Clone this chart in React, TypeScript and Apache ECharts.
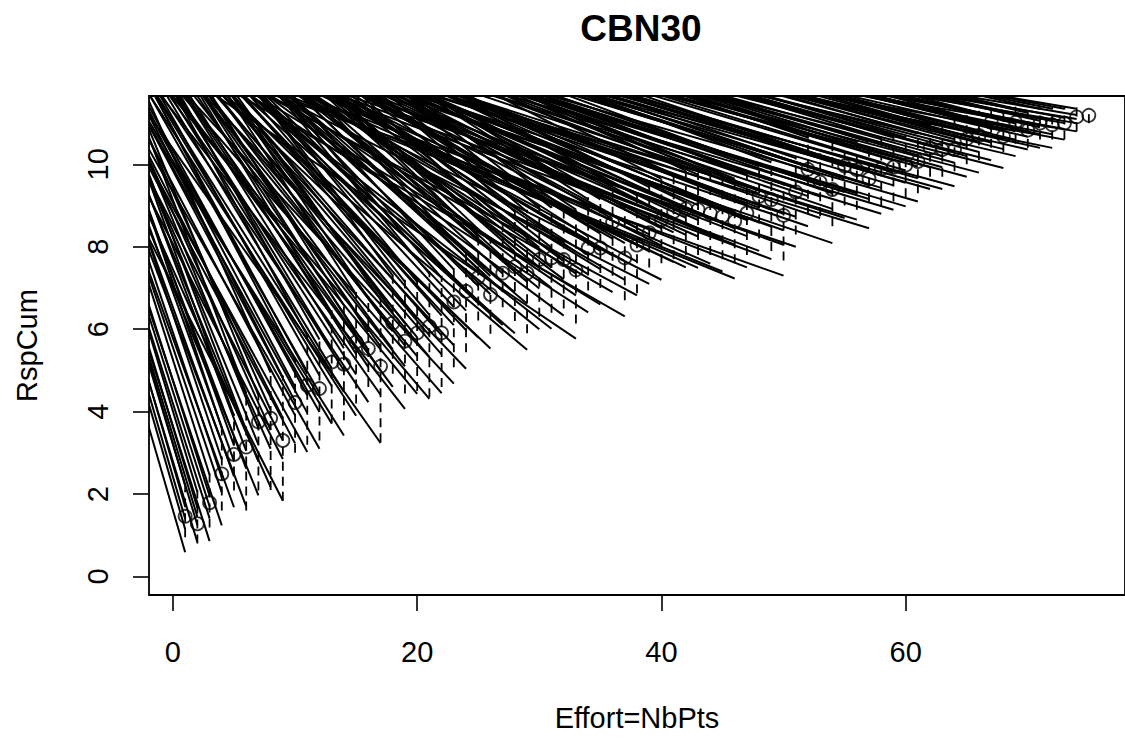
import React, { useEffect, useRef } from "react";
import * as echarts from "echarts";

// Effort (number of points)
const effort = [
  1, 2, 3, 4, 5, 6, 7, 8, 9, 10, 11, 12, 13, 14, 15, 16, 17, 18, 19, 20,
  21, 22, 23, 24, 25, 26, 27, 28, 29, 30, 31, 32, 33, 34, 35, 36, 37, 38, 39, 40,
  41, 42, 43, 44, 45, 46, 47, 48, 49, 50, 51, 52, 53, 54, 55, 56, 57, 58, 59, 60,
  61, 62, 63, 64, 65, 66, 67, 68, 69, 70, 71, 72, 73, 74, 75,
];

// Mean cumulative response (circles)
const rspMean = [
  1.46, 1.28, 1.79, 2.49, 2.96, 3.14, 3.75, 3.84, 3.30, 4.22,
  4.64, 4.56, 5.20, 5.15, 5.69, 5.53, 5.10, 6.15, 5.71, 5.91,
  6.07, 5.91, 6.66, 6.92, 7.26, 6.84, 7.36, 7.52, 7.36, 7.69,
  7.73, 7.69, 7.44, 7.97, 7.97, 8.60, 7.73, 8.04, 8.34, 8.65,
  8.85, 8.92, 8.90, 8.81, 8.74, 8.62, 8.82, 9.22, 9.14, 8.76,
  9.33, 9.88, 9.57, 9.39, 9.96, 9.87, 9.65, 9.89, 9.93, 9.98,
  10.07, 10.39, 10.36, 10.36, 10.62, 10.70, 11.02, 10.68, 11.02, 10.83,
  11.00, 10.96, 11.00, 11.15, 11.19,
];

// Dashed range: lower / upper bounds
const rspLow = [
  0.95, 0.80, 1.19, 1.60, 2.09, 1.60, 2.09, 2.10, 1.84, 3.00,
  3.20, 3.30, 3.71, 3.79, 4.20, 4.60, 3.26, 4.92, 4.44, 4.50,
  4.35, 4.60, 5.08, 5.44, 6.21, 5.89, 6.53, 6.20, 5.90, 6.30,
  6.40, 6.50, 6.14, 6.94, 7.00, 7.30, 6.70, 6.87, 7.50, 7.60,
  7.70, 7.80, 7.80, 7.80, 7.70, 7.60, 7.80, 8.20, 7.90, 7.67,
  8.30, 8.80, 8.74, 8.50, 9.00, 8.90, 9.09, 9.00, 9.10, 9.20,
  9.30, 9.70, 9.70, 9.83, 10.00, 10.10, 10.40, 10.30, 10.50, 10.40,
  10.60, 10.60, 10.60, 10.80, 11.00,
];
const rspHigh = [
  2.26, 2.10, 2.52, 3.66, 3.95, 4.50, 4.44, 5.00, 4.88, 5.30,
  5.90, 5.80, 6.46, 6.63, 6.90, 6.80, 6.78, 7.35, 7.20, 7.20,
  7.40, 7.30, 7.50, 7.90, 8.30, 8.20, 8.60, 8.90, 8.90, 9.00,
  9.00, 9.00, 8.96, 9.20, 9.20, 9.60, 9.00, 9.30, 9.50, 9.70,
  9.80, 9.90, 9.80, 9.80, 9.80, 9.70, 9.80, 10.00, 10.10, 9.57,
  10.20, 10.70, 10.27, 10.60, 10.60, 10.60, 10.60, 10.70, 10.70, 10.70,
  10.80, 11.00, 11.00, 11.20, 11.20, 11.30, 11.40, 11.30, 11.40, 11.30,
  11.40, 11.40, 11.40, 11.40, 11.30,
];

// Solid curve end values at each effort
const curveEnds = [
  [0.59, 1.15, 1.40, 1.70, 2.20], [0.83, 1.25, 1.45, 1.67, 2.05], [0.86, 1.41, 1.70, 1.96, 2.47],
  [1.24, 2.04, 2.40, 2.84, 3.60], [1.68, 2.43, 2.80, 3.18, 3.90], [1.70, 2.62, 3.05, 3.55, 4.45],
  [1.97, 2.79, 3.20, 3.60, 4.40], [2.17, 3.10, 3.55, 4.04, 4.95], [1.84, 2.85, 3.30, 3.85, 4.83],
  [3.23, 3.91, 4.25, 4.60, 5.25], [3.02, 3.97, 4.40, 4.92, 5.85], [3.10, 3.99, 4.45, 4.88, 5.75],
  [3.71, 4.62, 5.05, 5.52, 6.40], [3.42, 4.48, 5.00, 5.54, 6.58], [3.90, 4.90, 5.40, 5.90, 6.85],
  [4.23, 5.08, 5.50, 5.93, 6.75], [3.24, 4.41, 5.00, 5.58, 6.73], [4.60, 5.51, 5.95, 6.42, 7.30],
  [4.07, 5.10, 5.60, 6.14, 7.15], [4.43, 5.34, 5.80, 6.26, 7.15], [4.31, 5.33, 5.85, 6.35, 7.35],
  [4.45, 5.39, 5.85, 6.33, 7.25], [4.68, 5.61, 6.10, 6.54, 7.45], [5.04, 5.98, 6.45, 6.93, 7.85],
  [5.80, 6.63, 7.05, 7.45, 8.25], [5.53, 6.41, 6.85, 7.29, 8.15], [6.10, 6.93, 7.35, 7.75, 8.55],
  [5.90, 6.89, 7.40, 7.88, 8.85], [5.50, 6.62, 7.15, 7.74, 8.85], [6.00, 6.99, 7.50, 7.98, 8.95],
  [6.01, 7.00, 7.50, 7.98, 8.95], [6.33, 7.21, 7.65, 8.09, 8.95], [5.77, 6.82, 7.35, 7.88, 8.90],
  [6.41, 7.33, 7.80, 8.25, 9.15], [6.60, 7.46, 7.90, 8.32, 9.15], [6.90, 7.79, 8.20, 8.68, 9.55],
  [6.31, 7.20, 7.65, 8.09, 8.95], [6.82, 7.64, 8.05, 8.46, 9.25], [7.10, 7.89, 8.30, 8.68, 9.45],
  [7.20, 8.03, 8.45, 8.85, 9.65], [7.63, 8.35, 8.70, 9.06, 9.75], [7.50, 8.29, 8.70, 9.08, 9.85],
  [7.49, 8.25, 8.65, 9.01, 9.75], [7.59, 8.32, 8.70, 9.05, 9.75], [7.40, 8.19, 8.60, 8.98, 9.75],
  [7.23, 8.05, 8.45, 8.86, 9.65], [7.50, 8.26, 8.65, 9.02, 9.75], [7.90, 8.59, 8.95, 9.29, 9.95],
  [7.70, 8.49, 8.90, 9.28, 10.05], [7.30, 8.05, 8.40, 8.80, 9.52], [8.00, 8.73, 9.10, 9.45, 10.15],
  [8.50, 9.23, 9.60, 9.95, 10.65], [8.70, 9.22, 9.50, 9.74, 10.22], [8.09, 8.92, 9.30, 9.75, 10.55],
  [8.70, 9.33, 9.65, 9.95, 10.55], [8.66, 9.30, 9.60, 9.94, 10.55], [8.45, 9.16, 9.50, 9.87, 10.55],
  [8.80, 9.43, 9.75, 10.05, 10.65], [8.90, 9.49, 9.80, 10.09, 10.65], [8.98, 9.55, 9.85, 10.12, 10.65],
  [9.10, 9.66, 9.95, 10.22, 10.75], [9.40, 9.93, 10.20, 10.46, 10.95], [9.40, 9.93, 10.20, 10.46, 10.95],
  [9.47, 10.04, 10.30, 10.61, 11.15], [9.70, 10.20, 10.45, 10.69, 11.15], [9.80, 10.30, 10.55, 10.79, 11.25],
  [10.10, 10.53, 10.75, 10.96, 11.35], [9.91, 10.37, 10.60, 10.83, 11.25], [10.20, 10.60, 10.80, 10.99, 11.35],
  [10.36, 10.67, 10.80, 10.98, 11.25], [10.40, 10.73, 10.90, 11.06, 11.35], [10.40, 10.73, 10.90, 11.06, 11.35],
  [10.60, 10.86, 11.00, 11.13, 11.35], [10.80, 11.00, 11.10, 11.20, 11.35], [],
];

// Slope (decrease of response per unit of effort) of the curves ending at each effort
const curveSlopes = [
  1.02, 0.98, 0.93, 0.88, 0.82, 0.78, 0.72, 0.66, 0.58, 0.56,
  0.54, 0.52, 0.49, 0.47, 0.46, 0.44, 0.42, 0.40, 0.38, 0.36,
  0.35, 0.34, 0.32, 0.31, 0.29, 0.28, 0.27, 0.26, 0.25, 0.24,
  0.23, 0.22, 0.20, 0.19, 0.18, 0.17, 0.17, 0.16, 0.15, 0.15,
  0.14, 0.14, 0.13, 0.13, 0.12, 0.12, 0.115, 0.11, 0.11, 0.105,
  0.10, 0.10, 0.10, 0.10, 0.095, 0.09, 0.09, 0.09, 0.088, 0.088,
  0.085, 0.083, 0.082, 0.08, 0.08, 0.078, 0.075, 0.075, 0.07, 0.068,
  0.065, 0.06, 0.055, 0.05, 0.05,
];

const xTicks = [0, 20, 40, 60];
const yTicks = [0, 2, 4, 6, 8, 10];

const FONT = "'Liberation Sans', Arial, Helvetica, sans-serif";
const X_MIN = -1.96;
const X_MAX = 77.96;
const Y_MIN = -0.4484;
const Y_MAX = 11.6584;
const CURVE_START = -3;

export default function App() {
  const ref = useRef<HTMLDivElement>(null);

  useEffect(() => {
    if (!ref.current) return;
    const chart = echarts.init(ref.current, null, { renderer: "svg" });

    const curveData: number[][] = [];
    effort.forEach((x, i) => {
      curveEnds[i].forEach((e) => {
        curveData.push([CURVE_START, e + curveSlopes[i] * (x - CURVE_START), x, e]);
      });
    });
    const rangeData = effort.map((x, i) => [x, rspLow[i], x, rspHigh[i]]);
    const pointData = effort.map((x, i) => [x, rspMean[i]]);

    const segRender = (dash: number[] | null, width: number) => (params: any, api: any) => {
      const p1 = api.coord([api.value(0), api.value(1)]);
      const p2 = api.coord([api.value(2), api.value(3)]);
      return {
        type: "line",
        shape: { x1: p1[0], y1: p1[1], x2: p2[0], y2: p2[1] },
        style: { stroke: "#000", lineWidth: width, lineDash: dash || undefined, fill: null },
      };
    };

    chart.setOption({
      animation: false,
      backgroundColor: "#fff",
      title: {
        text: "CBN30",
        left: 641,
        textAlign: "center",
        top: 10,
        padding: 0,
        textStyle: { fontFamily: FONT, fontSize: 37, fontWeight: "bold", color: "#000" },
      },
      grid: {
        left: 149,
        top: 96,
        width: 984,
        height: 499,
        show: true,
        borderColor: "#000",
        borderWidth: 1.8,
        backgroundColor: "transparent",
        containLabel: false,
      },
      xAxis: {
        type: "value",
        min: X_MIN,
        max: X_MAX,
        name: "Effort=NbPts",
        nameLocation: "middle",
        nameGap: 108,
        nameTextStyle: { fontFamily: FONT, fontSize: 29, color: "#000" },
        axisLine: { show: false, onZero: false },
        splitLine: { show: false },
        axisTick: {
          show: true,
          customValues: xTicks,
          length: 16,
          lineStyle: { color: "#000", width: 1.6 },
        },
        axisLabel: {
          customValues: xTicks,
          margin: 42,
          fontFamily: FONT,
          fontSize: 29,
          color: "#000",
        },
      },
      yAxis: {
        type: "value",
        min: Y_MIN,
        max: Y_MAX,
        name: "RspCum",
        nameLocation: "middle",
        nameRotate: 90,
        nameGap: 108,
        nameTextStyle: { fontFamily: FONT, fontSize: 29, color: "#000" },
        axisLine: { show: false, onZero: false },
        splitLine: { show: false },
        axisTick: {
          show: true,
          customValues: yTicks,
          length: 16,
          lineStyle: { color: "#000", width: 1.6 },
        },
        axisLabel: {
          customValues: yTicks,
          rotate: 90,
          margin: 37,
          fontFamily: FONT,
          fontSize: 29,
          color: "#000",
        },
      },
      series: [
        {
          type: "custom",
          name: "range",
          clip: true,
          renderItem: segRender([9, 6], 1.8),
          encode: { x: [0, 2], y: [1, 3] },
          data: rangeData,
          silent: true,
        },
        {
          type: "custom",
          name: "curves",
          clip: true,
          renderItem: segRender(null, 2.0),
          encode: { x: [0, 2], y: [1, 3] },
          data: curveData,
          silent: true,
        },
        {
          type: "scatter",
          name: "mean",
          data: pointData,
          symbol: "circle",
          symbolSize: 13,
          itemStyle: { color: "rgba(0,0,0,0)", borderColor: "#000", borderWidth: 1.8 },
          silent: true,
        },
      ],
    });

    return () => chart.dispose();
  }, []);

  return (
    <div
      ref={ref}
      style={{ position: "absolute", left: 0, top: 0, width: 1125, height: 740, background: "#fff" }}
    />
  );
}
